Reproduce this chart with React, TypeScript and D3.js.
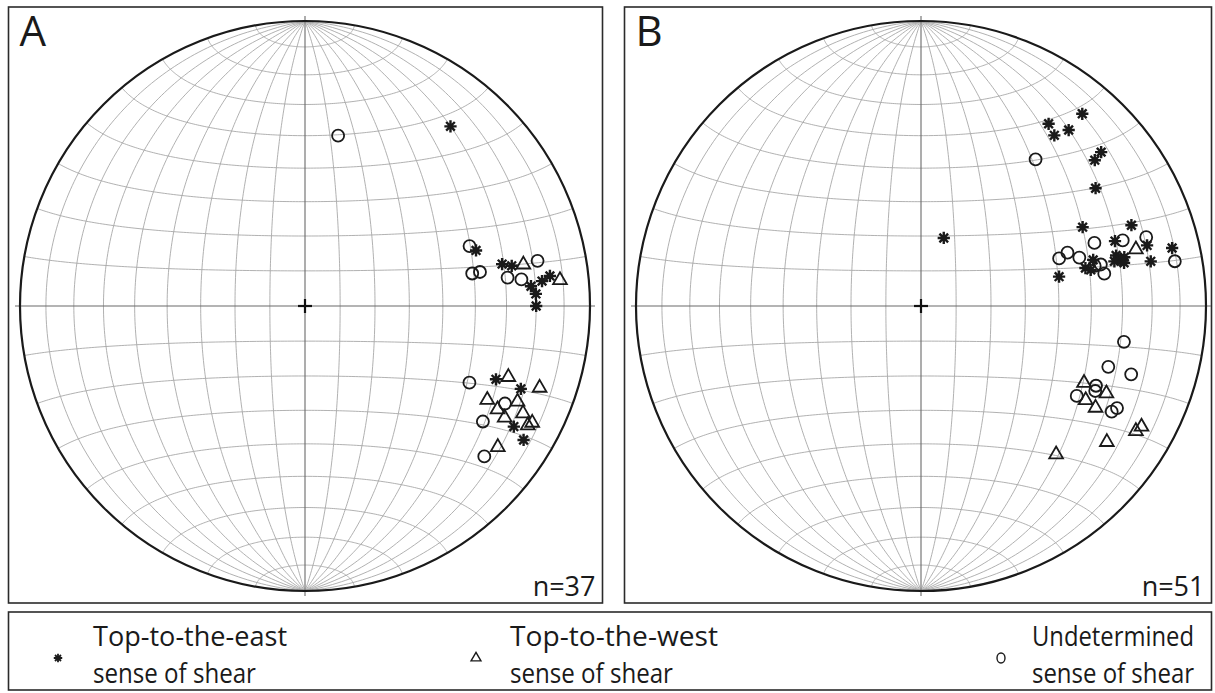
import React, { useLayoutEffect, useRef, useState } from "react";
import * as d3 from "d3";

type TP = [number, number]; // [trend, plunge] in degrees

const panelLabels = ["A", "B"];
const panelCounts = ["n=37", "n=51"];
const legendLine1 = ["Top-to-the-east", "Top-to-the-west", "Undetermined"];
const legendLine2 = ["sense of shear", "sense of shear", "sense of shear"];

// Panel A
const aEast: TP[] = [
  [39, 20], [72, 37], [78, 30], [79, 27], [83, 14.5], [84, 17.5], [85, 21.5],
  [87, 20], [90, 20], [111, 29], [111, 20], [120, 16.5], [121.5, 11],
];
const aWest: TP[] = [
  [79, 23], [84, 11], [109, 25.5], [109, 14], [117, 29], [114, 19.5], [118, 24.5],
  [116, 16], [119, 21], [118, 12.5], [117, 11.5], [126, 17.5],
];
const aUndet: TP[] = [
  [11, 39], [70, 38.5], [79, 40], [79, 37.5], [79, 18], [82, 29], [83, 24.5],
  [115, 36.5], [116, 23], [123, 26.5], [130, 19],
];

// Panel B
const bEast: TP[] = [
  [40, 13], [35, 23], [40, 20.5], [38, 25], [49.5, 18], [50, 21.5], [56, 27],
  [18.5, 69.5], [64, 37], [69, 22], [71.5, 29], [75, 19], [77, 10.5], [79, 19],
  [78, 49], [75, 37.5], [77, 40.5], [78, 39], [75.5, 30], [77, 29], [76.5, 27.5],
  [78, 28], [77, 31],
];
const bWest: TP[] = [
  [75, 23], [115, 37], [115, 29], [119.5, 34], [120, 30], [120, 14], [118.5, 13],
  [126, 20.5], [137.5, 30.5],
];
const bUndet: TP[] = [
  [38, 35], [70, 35.5], [72, 26.5], [73, 18.5], [80, 10.5], [71, 47.5], [70, 44.5],
  [73, 41.5], [77, 37.5], [77, 35.5], [80, 35], [100, 28.5], [108, 31.5],
  [108, 23.5], [114.5, 33], [120, 37], [116, 32.5], [119, 24.5], [117.5, 23.5],
];

const gridValues = d3.range(-80, 81, 10).filter((v) => v !== 0);

const DEG = Math.PI / 180;
function toLonLat([trend, plunge]: TP): [number, number] {
  const t = trend * DEG, p = plunge * DEG;
  const x = Math.sin(t) * Math.cos(p);
  const y = Math.cos(t) * Math.cos(p);
  const z = Math.sin(p);
  return [Math.atan2(x, z) / DEG, Math.asin(y) / DEG];
}

const asteriskType = {
  draw(ctx: any, size: number) {
    const r = Math.sqrt(size) / 2;
    for (let i = 0; i < 4; i++) {
      const a = (i * Math.PI) / 4;
      ctx.moveTo(r * Math.cos(a), r * Math.sin(a));
      ctx.lineTo(-r * Math.cos(a), -r * Math.sin(a));
    }
  },
};

const symAsterisk = d3.symbol().type(asteriskType as any).size(150)();
const symTriangle = d3.symbol().type(d3.symbolTriangle2).size(135)();
const symCircle = d3.symbol().type(d3.symbolCircle).size(Math.PI * 36)();

const legAsterisk = d3.symbol().type(asteriskType as any).size(72)();
const legTriangle = d3.symbol().type(d3.symbolTriangle2).size(70)();

const FONT = "'Open Sans', 'Noto Sans', sans-serif";

function FitText({ x, y, width, size, text }: { x: number; y: number; width: number; size: number; text: string }) {
  const ref = useRef<SVGTextElement>(null);
  const [s, setS] = useState(0.88);
  useLayoutEffect(() => {
    if (ref.current) {
      const n = ref.current.getComputedTextLength();
      if (n > 0) setS(width / n);
    }
  }, [width, text]);
  return (
    <text ref={ref} transform={`translate(${x},${y}) scale(${s},1)`} fontFamily={FONT} fontSize={size} fill="#1a1a1a">
      {text}
    </text>
  );
}

function Net({
  cx, cy, r, box, label, count, east, west, undet,
}: {
  cx: number; cy: number; r: number; box: [number, number, number, number];
  label: string; count: string; east: TP[]; west: TP[]; undet: TP[];
}) {
  const proj = d3
    .geoAzimuthalEqualArea()
    .rotate([0, 0])
    .scale(r / Math.SQRT2)
    .translate([cx, cy])
    .clipAngle(90);
  const line = d3.line<[number, number]>();
  const steps = d3.range(-90, 90.001, 1);
  const meridians = gridValues.map((lon) =>
    line(steps.map((lat) => proj([lon, lat]) as [number, number]))
  );
  const parallels = gridValues.map((lat) =>
    line(steps.map((lon) => proj([lon, lat]) as [number, number]))
  );
  const pos = (d: TP) => proj(toLonLat(d)) as [number, number];
  const [bx, by, bw, bh] = box;
  return (
    <g>
      <rect x={bx} y={by} width={bw} height={bh} fill="#fff" stroke="#2b2b2b" strokeWidth={1.6} />
      <g fill="none" stroke="#a3a3a3" strokeWidth={0.85}>
        {meridians.map((d, i) => <path key={"m" + i} d={d || ""} />)}
        {parallels.map((d, i) => <path key={"p" + i} d={d || ""} />)}
      </g>
      <g stroke="#6a6a6a" strokeWidth={1.1}>
        <line x1={cx} y1={cy - r - 5} x2={cx} y2={cy + r + 5} />
        <line x1={cx - r - 5} y1={cy} x2={cx + r + 5} y2={cy} />
      </g>
      <circle cx={cx} cy={cy} r={r} fill="none" stroke="#1a1a1a" strokeWidth={2.2} />
      <g stroke="#111" strokeWidth={2.2}>
        <line x1={cx - 7} y1={cy} x2={cx + 7} y2={cy} />
        <line x1={cx} y1={cy - 7} x2={cx} y2={cy + 7} />
      </g>
      <g fill="none" stroke="#1a1a1a">
        {undet.map((d, i) => {
          const [x, y] = pos(d);
          return <path key={"u" + i} d={symCircle || ""} transform={`translate(${x},${y})`} strokeWidth={1.8} />;
        })}
        {west.map((d, i) => {
          const [x, y] = pos(d);
          return <path key={"w" + i} d={symTriangle || ""} transform={`translate(${x},${y + 1})`} strokeWidth={1.8} strokeLinejoin="miter" />;
        })}
        {east.map((d, i) => {
          const [x, y] = pos(d);
          return <path key={"e" + i} d={symAsterisk || ""} transform={`translate(${x},${y})`} strokeWidth={2.4} />;
        })}
      </g>
      <text x={bx + 11} y={by + 39} fontFamily={FONT} fontSize={42} fill="#1a1a1a">{label}</text>
      <text x={bx + bw - 7} y={by + bh - 7} fontFamily={FONT} fontSize={27} fill="#1a1a1a" textAnchor="end">{count}</text>
    </g>
  );
}

export default function App() {
  const legendX = [58, 476, 1001];
  const textX = [93, 510, 1032];
  const w1 = [194, 208, 162];
  const w2 = [163, 163, 162];
  return (
    <svg width={1215} height={693} style={{ display: "block", position: "absolute", left: 0, top: 0 }}>
      <rect width={1215} height={693} fill="#fff" />
      <Net cx={305} cy={306} r={285} box={[8.5, 7, 594, 596]} label={panelLabels[0]} count={panelCounts[0]} east={aEast} west={aWest} undet={aUndet} />
      <Net cx={921} cy={306} r={285} box={[624.5, 7, 587, 596]} label={panelLabels[1]} count={panelCounts[1]} east={bEast} west={bWest} undet={bUndet} />
      <rect x={8.5} y={612} width={1203} height={78} fill="none" stroke="#2b2b2b" strokeWidth={1.6} />
      <path d={legAsterisk || ""} transform={`translate(${legendX[0]},658)`} fill="none" stroke="#1a1a1a" strokeWidth={1.8} />
      <path d={legTriangle || ""} transform={`translate(${legendX[1]},658)`} fill="none" stroke="#1a1a1a" strokeWidth={1.4} />
      <ellipse cx={legendX[2]} cy={658} rx={4} ry={5} fill="none" stroke="#1a1a1a" strokeWidth={1.4} />
      {legendLine1.map((t, i) => (
        <g key={i}>
          <FitText x={textX[i]} y={646} width={w1[i]} size={28} text={t} />
          <FitText x={textX[i]} y={683} width={w2[i]} size={28} text={legendLine2[i]} />
        </g>
      ))}
    </svg>
  );
}
